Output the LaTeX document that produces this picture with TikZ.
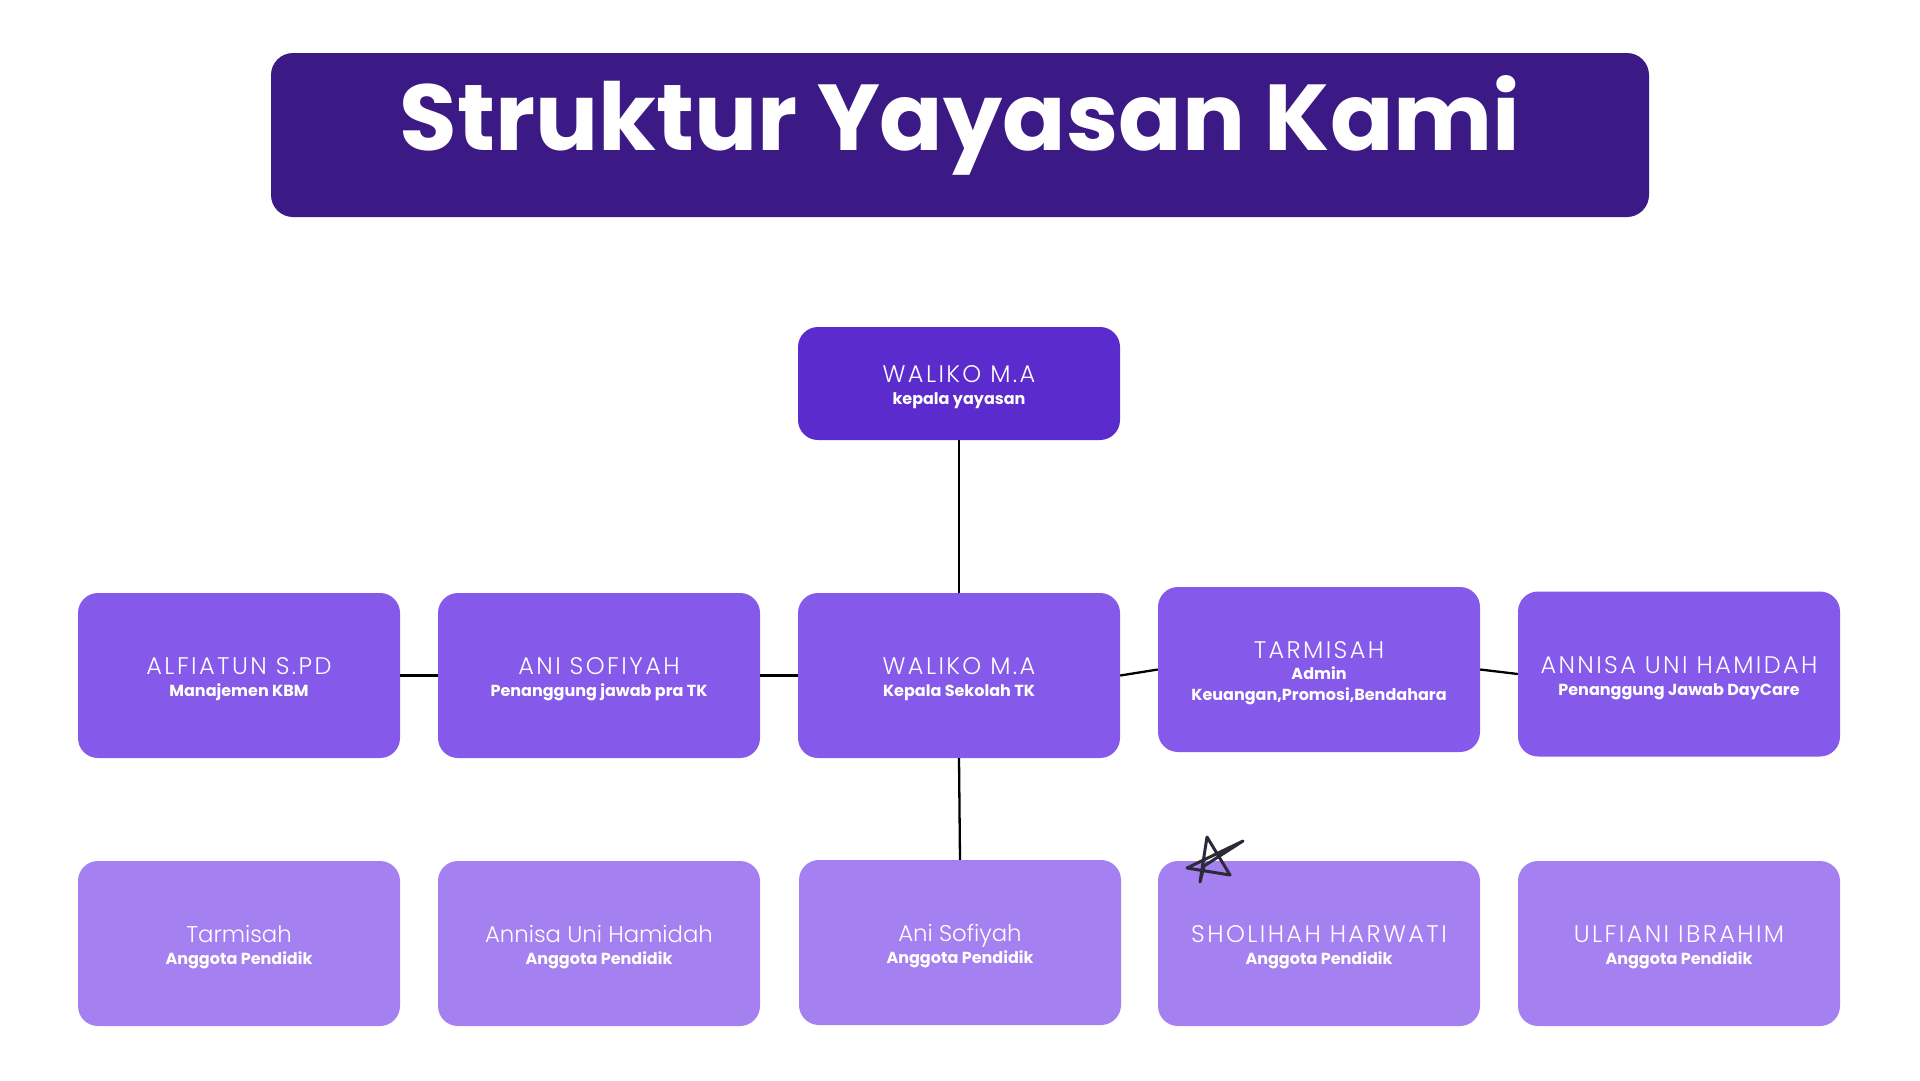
\documentclass[tikz,border=0pt]{standalone}
\usepackage{fontspec}
\usepackage{graphicx}
\setmainfont{Poppins}
\newfontfamily\titlefont{Poppins}[UprightFont=* Bold]
\newfontfamily\namefont{Poppins}[UprightFont=* Light]
\newfontfamily\namecapsfont{Poppins}[UprightFont=* Light, LetterSpace=10]
\newfontfamily\subfont{Poppins}[UprightFont=* Bold]
\definecolor{titlebg}{HTML}{3C1A86}
\definecolor{topbg}{HTML}{5B2BCE}
\definecolor{midbg}{HTML}{855AEA}
\definecolor{botbg}{HTML}{A580F1}
\definecolor{starc}{HTML}{2B2A38}
\newcommand\nameline[1]{{\namecapsfont\fontsize{24}{22}\selectfont #1}}
\newcommand\namemixed[1]{{\namefont\fontsize{22.8}{22}\selectfont #1}}
\newcommand\subline[1]{{\subfont\fontsize{16}{22}\selectfont #1}}
\begin{document}
\begin{tikzpicture}[x=1pt,y=-1pt,
  box/.style={rounded corners=20pt, minimum width=322pt, inner sep=0pt},
  topbox/.style={box, fill=topbg, minimum height=113pt},
  midbox/.style={box, fill=midbg, minimum height=165pt},
  botbox/.style={box, fill=botbg, minimum height=165pt},
  txt/.style={inner sep=0pt, align=center, text=white, yshift=-4pt, font=\fontsize{24}{22}\selectfont},
  link/.style={draw=black, line width=2.3pt}]
\useasboundingbox (0,0) rectangle (1920,1080);
\fill[white] (0,0) rectangle (1920,1080);
% title
\node[fill=titlebg, rounded corners=22pt, minimum width=1378pt, minimum height=164pt, inner sep=0pt] (title) at (960,135) {};
\node[anchor=base, text=white, inner sep=0pt] (titletext) at (960,150) {\resizebox{1121pt}{!}{\titlefont\fontsize{100}{100}\selectfont Struktur Yayasan Kami}};
% boxes
\node[topbox] (top) at (959,383.5) {};
\node[midbox] (m1) at (239,675.5) {};
\node[midbox] (m2) at (599,675.5) {};
\node[midbox] (m3) at (959,675.5) {};
\node[midbox] (m4) at (1319,669.5) {};
\node[midbox] (m5) at (1679,674) {};
\node[botbox] (b1) at (239,943.5) {};
\node[botbox] (b2) at (599,943.5) {};
\node[botbox] (b3) at (960,942.5) {};
\node[botbox] (b4) at (1319,943.5) {};
\node[botbox] (b5) at (1679,943.5) {};
% texts
\node[txt] (topt) at (top.center) {\nameline{WALIKO M.A}\\\subline{kepala yayasan}};
\node[txt] (m1t) at (m1.center) {\nameline{ALFIATUN S.PD}\\\subline{Manajemen KBM}};
\node[txt] (m2t) at (m2.center) {\nameline{ANI SOFIYAH}\\\subline{Penanggung jawab pra TK}};
\node[txt] (m3t) at (m3.center) {\nameline{WALIKO M.A}\\\subline{Kepala Sekolah TK}};
\node[txt, font=\fontsize{24}{21}\selectfont] (m4t) at (m4.center) {\nameline{TARMISAH}\\\subline{Admin}\\\subline{Keuangan,Promosi,Bendahara}};
\node[txt] (m5t) at (m5.center) {\nameline{ANNISA UNI HAMIDAH}\\\subline{Penanggung Jawab DayCare}};
\node[txt] (b1t) at (b1.center) {\namemixed{Tarmisah}\\\subline{Anggota Pendidik}};
\node[txt] (b2t) at (b2.center) {\namemixed{Annisa Uni Hamidah}\\\subline{Anggota Pendidik}};
\node[txt] (b3t) at (b3.center) {\namemixed{Ani Sofiyah}\\\subline{Anggota Pendidik}};
\node[txt] (b4t) at (b4.center) {\nameline{SHOLIHAH HARWATI}\\\subline{Anggota Pendidik}};
\node[txt] (b5t) at (b5.center) {\nameline{ULFIANI IBRAHIM}\\\subline{Anggota Pendidik}};
% connectors
\draw[link] (top.south) -- (m3.north);
\draw[link] (m1.east) -- (m2.west);
\draw[link] (m2.east) -- (m3.west);
\draw[link] (m3.east) -- (m4.west);
\draw[link] (m4.east) -- (m5.west);
\draw[link] (m3.south) -- (b3.north);
% star doodle
\draw[starc, line width=3pt, line cap=round, line join=round]
  (1200,882) -- (1207,837) -- (1230,875) -- (1187,868) -- (1243,841) -- (1204,866) -- (1200,882);
\end{tikzpicture}
\end{document}
